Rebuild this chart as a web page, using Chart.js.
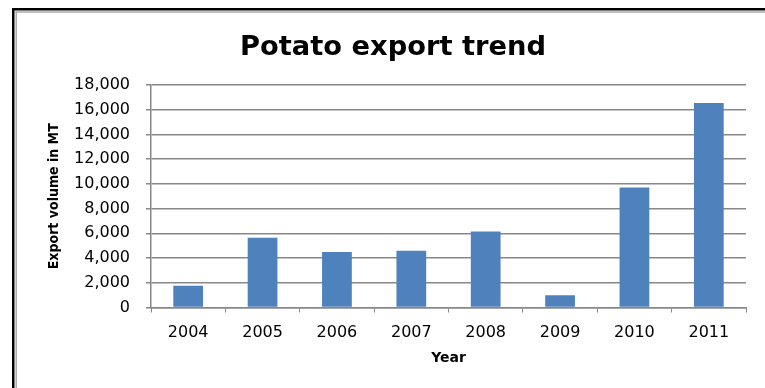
<!DOCTYPE html>
<html>
<head>
<meta charset="utf-8">
<script src="https://cdn.jsdelivr.net/npm/chart.js@4"></script>
<style>
  html, body { margin: 0; padding: 0; overflow: hidden; background: #fff; }
  #wrap { width: 765px; height: 388px; }
</style>
</head>
<body>
<div id="wrap"><canvas id="exportChart" width="765" height="388"></canvas></div>
<script>
const years = ["2004", "2005", "2006", "2007", "2008", "2009", "2010", "2011"];
const exportVolume = [1750, 5650, 4500, 4600, 6150, 1000, 9700, 16550];
const yTicks = [0, 2000, 4000, 6000, 8000, 10000, 12000, 14000, 16000, 18000];

const CHART_TITLE = "Potato export trend";
const BAR_BLUE = "#4F81BD";
const GRID_GREY = "#888888";

// double frame round the chart (black outer, grey inner) and the heading,
// which is centred on the whole frame rather than on the plot
const framePlugin = {
  id: "frame",
  beforeDraw(chart) {
    const ctx = chart.ctx;
    const { width, height } = chart;
    ctx.save();
    ctx.fillStyle = "#fff";
    ctx.fillRect(0, 0, width, height);
    // outer black edge, left and top
    ctx.fillStyle = "#000";
    ctx.fillRect(12, 8, 2.5, height - 8);
    ctx.fillRect(12, 8, width - 12, 2.5);
    // inner grey edge
    ctx.fillStyle = "#a6a6a6";
    ctx.fillRect(15.5, 11.3, 1.4, height - 11.3);
    ctx.fillRect(15.5, 11.3, width - 15.5, 1.4);

    ctx.fillStyle = "#000";
    ctx.font = "bold 27.3px 'DejaVu Sans'";
    ctx.textAlign = "center";
    ctx.textBaseline = "alphabetic";
    ctx.fillText(CHART_TITLE, 393, 55);
    ctx.restore();
  },
};

function render() {
  const ctx = document.getElementById("exportChart").getContext("2d");
  new Chart(ctx, {
    type: "bar",
    data: {
      labels: years,
      datasets: [
        {
          label: "Export volume",
          data: exportVolume,
          backgroundColor: BAR_BLUE,
          borderWidth: 0,
          barPercentage: 0.4,
          categoryPercentage: 1,
        },
      ],
    },
    options: {
      responsive: false,
      animation: false,
      layout: { padding: { left: 0, right: 19, top: 85, bottom: 0 } },
      plugins: {
        legend: { display: false },
        tooltip: { enabled: false },
        title: { display: false },
      },
      scales: {
        x: {
          grid: {
            display: true,
            drawOnChartArea: false,
            drawTicks: true,
            tickLength: 5,
            offset: true,
            color: GRID_GREY,
            lineWidth: 1,
          },
          border: { display: true, color: GRID_GREY, width: 1.5 },
          ticks: {
            color: "#000",
            padding: 10.5,
            font: { family: "DejaVu Sans", size: 16 },
          },
          title: {
            display: true,
            text: "Year",
            color: "#000",
            font: { family: "DejaVu Sans", size: 14, weight: "bold" },
            padding: { top: 0, bottom: 21.6 },
          },
          afterFit(scale) {
            scale.height = 80.5;
          },
        },
        y: {
          min: 0,
          max: 18000,
          afterBuildTicks(scale) {
            scale.ticks = yTicks.map((v) => ({ value: v }));
          },
          grid: {
            color: GRID_GREY,
            lineWidth: 1.5,
            drawTicks: true,
            tickLength: 5,
          },
          border: { display: true, color: GRID_GREY, width: 1.5 },
          ticks: {
            color: "#000",
            padding: 16,
            font: { family: "DejaVu Sans", size: 16 },
            callback: (value) => Number(value).toLocaleString("en-US"),
          },
          title: {
            display: true,
            text: "Export volume in MT",
            color: "#000",
            font: { family: "'DejaVu Sans Condensed', 'Open Sans', sans-serif", size: 14, weight: "bold" },
            padding: { top: 46, bottom: 0 },
          },
          afterFit(scale) {
            scale.width = 151;
          },
        },
      },
    },
    plugins: [framePlugin],
  });
}

render();
</script>
</body>
</html>
